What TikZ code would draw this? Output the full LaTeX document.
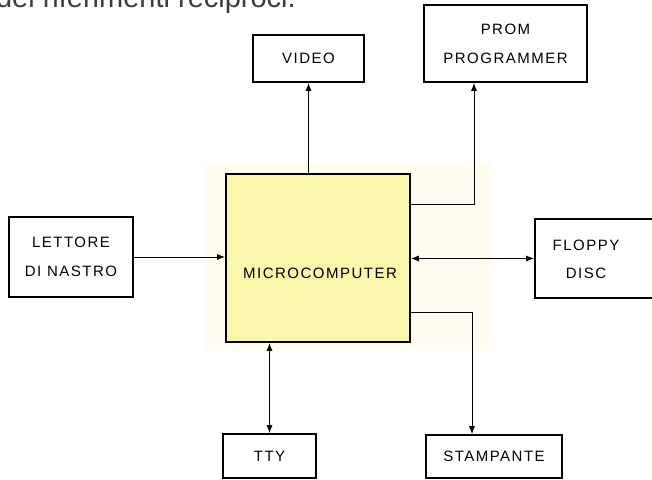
\documentclass[tikz,border=0pt]{standalone}
\usepackage{fontspec}
\setmainfont{Liberation Sans}
\newfontfamily\boxfont[LetterSpace=10]{Liberation Sans}
\usetikzlibrary{arrows.meta}
\definecolor{microfill}{RGB}{250,246,172}
\definecolor{paleglow}{RGB}{254,253,240}
\definecolor{captiongray}{RGB}{60,60,60}
\tikzset{
  box/.style={draw=black, line width=1.6pt, fill=white, inner sep=0pt, align=center,
    font=\boxfont\fontsize{15}{29}\selectfont},
  boxtext/.style={inner sep=0pt, align=center, font=\boxfont\fontsize{15}{28}\selectfont},
  conn/.style={draw=black, line width=1pt},
  tip/.style={-{Latex[length=8pt,width=6pt]}},
  biarrow/.style={{Latex[length=8pt,width=6pt]}-{Latex[length=8pt,width=6pt]}},
}
\begin{document}
\begin{tikzpicture}[x=1pt,y=-1pt]
\useasboundingbox (0,0) rectangle (652,479);
\clip (0,0) rectangle (652,479);
\fill[white] (0,0) rectangle (652,479);
\fill[paleglow] (205,163) rectangle (492,350);

\node[anchor=base east, inner sep=0pt, text=captiongray, font=\fontsize{29}{30}\selectfont] (caption) at (296,8) {dei riferimenti reciproci.};

\node[box, fill=microfill, minimum width=184pt, minimum height=168pt] (micro) at (318,258) {};
\node[boxtext] (microtext) at (320,273) {MICROCOMPUTER};

\node[box, minimum width=111pt, minimum height=47pt] (video) at (308.5,58.5) {VIDEO};
\node[box, minimum width=163pt, minimum height=77pt] (prom) at (505.5,43.5) {PROM\\PROGRAMMER};
\node[box, minimum width=124pt, minimum height=80pt] (lettore) at (71,257) {LETTORE\\DI NASTRO};
\node[box, minimum width=130pt, minimum height=79pt] (floppy) at (600,258.5) {};
\node[boxtext] (floppytext) at (586,259) {FLOPPY\\DISC};
\node[box, minimum width=93pt, minimum height=44pt] (tty) at (269.5,456) {TTY};
\node[box, minimum width=136pt, minimum height=43pt] (stampante) at (494,456.5) {STAMPANTE};

\coordinate (promturn) at (474,204);
\coordinate (stampturn) at (472,312);

\draw[conn, tip] (micro.north -| video.south) -- (video.south);
\draw[conn, tip] (micro.east |- promturn) -- (promturn) -- (promturn |- prom.south);
\draw[conn, tip] (lettore.east) -- (micro.west |- lettore.east);
\draw[conn, biarrow] (micro.east |- floppy.west) -- (floppy.west);
\draw[conn, biarrow] (micro.south -| tty.north) -- (tty.north);
\draw[conn, tip] (micro.east |- stampturn) -- (stampturn) -- (stampturn |- stampante.north);
\end{tikzpicture}
\end{document}
